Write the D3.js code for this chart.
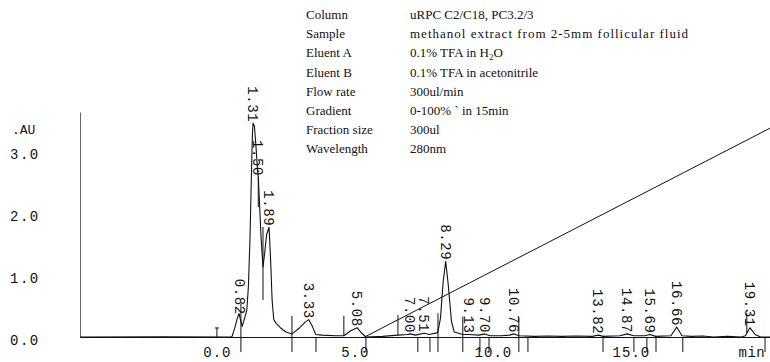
<!DOCTYPE html>
<html>
<head>
<meta charset="utf-8">
<script src="https://cdn.jsdelivr.net/npm/d3@7"></script>
<style>
  body { margin: 0; background: #fff; }
  svg { display: block; background: #fff; }
</style>
</head>
<body>
<svg id="chart" width="770" height="362"></svg>
<script>
// run conditions printed above the trace
const headerKeys = ['Column', 'Sample', 'Eluent A', 'Eluent B', 'Flow rate', 'Gradient', 'Fraction size', 'Wavelength'];
const headerValues = ['uRPC C2/C18, PC3.2/3', 'methanol extract from 2-5mm follicular fluid', '0.1% TFA in H2O',
  '0.1% TFA in acetonitrile', '300ul/min', '0-100%  `  in 15min', '300ul', '280nm'];

// absorbance trace, [minutes, AU]
const trace = [
  [-4.96, 0.0], [-2.0, 0.005], [0.5, 0.0], [0.55, 0.01], [0.65, 0.15], [0.74, 0.30], [0.80, 0.38],
  [0.87, 0.25], [0.92, 0.17], [1.00, 0.30], [1.08, 0.42], [1.14, 0.80], [1.20, 1.6], [1.25, 2.6],
  [1.29, 3.3], [1.31, 3.45], [1.36, 3.40], [1.42, 3.05], [1.47, 2.70], [1.50, 2.58], [1.53, 2.3],
  [1.60, 1.6], [1.67, 1.13], [1.73, 1.35], [1.80, 1.65], [1.89, 1.77], [1.95, 1.2], [2.00, 0.6],
  [2.06, 0.28], [2.15, 0.22], [2.3, 0.15], [2.5, 0.08], [2.72, 0.05], [3.0, 0.15], [3.2, 0.24],
  [3.33, 0.28], [3.45, 0.18], [3.58, 0.04], [3.8, 0.03], [4.3, 0.02], [4.6, 0.02], [4.85, 0.10],
  [5.08, 0.15], [5.25, 0.06], [5.40, 0.0], [6.0, 0.01], [6.56, 0.03], [6.9, 0.04], [7.00, 0.05],
  [7.2, 0.03], [7.51, 0.06], [7.7, 0.04], [8.0, 0.07], [8.1, 0.30], [8.2, 0.9], [8.29, 1.22],
  [8.38, 0.85], [8.5, 0.25], [8.6, 0.08], [8.9, 0.04], [9.13, 0.04], [9.5, 0.03], [9.70, 0.05],
  [9.9, 0.02], [10.3, 0.02], [10.6, 0.03], [10.76, 0.05], [10.95, 0.02], [11.5, 0.01], [12.0, 0.015],
  [12.5, 0.01], [13.0, 0.015], [13.6, 0.01], [13.82, 0.03], [14.0, 0.01], [14.6, 0.02], [14.87, 0.05],
  [15.1, 0.02], [15.5, 0.02], [15.69, 0.04], [15.9, 0.01], [16.45, 0.02], [16.66, 0.16], [16.85, 0.02],
  [17.2, 0.01], [17.6, 0.015], [18.0, 0.0], [18.5, 0.01], [19.0, 0.0], [19.15, 0.02], [19.31, 0.15],
  [19.5, 0.04], [19.7, 0.0], [20.1, 0.0]
];

// retention times printed on the peaks
const peakTimes = [0.82, 1.31, 1.50, 1.89, 3.33, 5.08, 7.00, 7.51, 8.29, 9.13, 9.70, 10.76,
  13.82, 14.87, 15.69, 16.66, 19.31];

// integrator event marks: [minutes, kind]
const eventMarks = [
  [0.0, 's'], [0.87, 'x'], [1.50, 'd'], [1.67, 'l'], [2.72, 'x'], [3.59, 'b'], [4.60, 'a'], [5.40, 'b'],
  [6.56, 'a'], [7.28, 'b'], [7.72, 'b'], [8.01, 'x'], [8.91, 'x'], [9.53, 'b'], [9.86, 'b'],
  [10.94, 'x'], [11.27, 'b'], [13.99, 'b'], [15.11, 'b'], [15.58, 'b'], [15.91, 'b'], [16.88, 'b'],
  [19.20, 'a'], [19.86, 'b']
];

// %B gradient: 0-100% in 15 min
const gradientTime = [5.35, 20.35];
const gradientPct = [0, 100];

const yTicks = [0, 1, 2, 3];
const xTicks = [0, 5, 10, 15];

const mono = '"Liberation Mono", "DejaVu Sans Mono", monospace';
const serif = '"Liberation Serif", "DejaVu Serif", serif';

const svg = d3.select('#chart');

const x = d3.scaleLinear().domain([-4.96, 20.04]).range([80, 770]);
const y = d3.scaleLinear().domain([0, 3.63]).range([337, 112]);
const yB = d3.scaleLinear().domain([0, 100]).range([y(0), y(3.44)]);

const bisect = d3.bisector(d => d[0]).left;
const signalAt = t => {
  const i = Math.max(1, Math.min(trace.length - 1, bisect(trace, t)));
  const a = trace[i - 1], b = trace[i];
  return a[1] + (b[1] - a[1]) * (t - a[0]) / (b[0] - a[0]);
};

// header block
const head = svg.append('g').attr('font-family', serif).attr('font-size', 13).attr('fill', '#111');
headerKeys.forEach((k, i) => {
  const by = 19 + i * 19.2;
  head.append('text').attr('x', 306).attr('y', by).text(k);
  const v = head.append('text').attr('x', 410).attr('y', by);
  if (i === 1) v.attr('letter-spacing', 1);
  const val = headerValues[i];
  if (val.includes('H2O')) {
    const [pre, post] = val.split('H2O');
    v.append('tspan').text(pre + 'H');
    v.append('tspan').attr('font-size', 9).attr('dy', 3).text('2');
    v.append('tspan').attr('dy', -3).text('O' + post);
  } else {
    v.text(val);
  }
});

// y axis
const yAxis = svg.append('g')
  .attr('transform', `translate(${x(-4.96)},0)`)
  .call(d3.axisLeft(y).tickValues(yTicks).tickSize(0).tickSizeOuter(0).tickPadding(38)
    .tickFormat(d3.format('.1f')));
yAxis.select('.domain').attr('stroke', '#666');
yAxis.selectAll('text').attr('font-family', mono).attr('font-size', 14)
  .attr('letter-spacing', 1.5).attr('fill', '#111').attr('text-anchor', 'start').attr('x', -70).attr('y', 3);

svg.append('text')
  .attr('x', 12).attr('y', y(3.3) + 2)
  .attr('font-family', mono).attr('font-size', 13).attr('fill', '#111')
  .text('.AU');

// x axis
const xAxis = svg.append('g')
  .attr('transform', `translate(0,${y(0)})`)
  .call(d3.axisBottom(x).tickValues(xTicks).tickSize(0).tickSizeOuter(0).tickPadding(10)
    .tickFormat(d3.format('.1f')));
xAxis.select('.domain').attr('stroke', '#111');
xAxis.selectAll('text').attr('font-family', mono).attr('font-size', 14)
  .attr('letter-spacing', 1).attr('fill', '#111');
svg.append('text')
  .attr('x', x(18.9)).attr('y', y(0) + 20)
  .attr('font-family', mono).attr('font-size', 14).attr('letter-spacing', 0.5).attr('fill', '#111')
  .text('min');

// gradient line
svg.append('path')
  .datum(gradientTime.map((t, i) => [t, gradientPct[i]]))
  .attr('fill', 'none').attr('stroke', '#111').attr('stroke-width', 1)
  .attr('d', d3.line().x(d => x(d[0])).y(d => yB(d[1])));

// trace
svg.append('path')
  .datum(trace)
  .attr('fill', 'none').attr('stroke', '#111').attr('stroke-width', 1.1)
  .attr('stroke-linejoin', 'round')
  .attr('d', d3.line().x(d => x(d[0])).y(d => y(d[1])));

// event marks
const markSpan = {
  x: ys => [ys - 18, y(0) + 15],
  a: ys => [ys - 20, ys],
  b: () => [y(0), y(0) + 15],
  d: ys => [ys, ys + 30],
  l: ys => [ys - 40, ys + 33],
  s: ys => [ys - 9, ys]
};
svg.append('g').selectAll('line')
  .data(eventMarks)
  .join('line')
  .attr('x1', d => x(d[0])).attr('x2', d => x(d[0]))
  .attr('y1', d => markSpan[d[1]](y(signalAt(d[0])))[0])
  .attr('y2', d => markSpan[d[1]](y(signalAt(d[0])))[1])
  .attr('stroke', '#111').attr('stroke-width', 1);
svg.append('g').selectAll('line')
  .data(eventMarks.filter(d => d[1] === 's'))
  .join('line')
  .attr('x1', d => x(d[0]) - 2).attr('x2', d => x(d[0]) + 2)
  .attr('y1', d => y(signalAt(d[0])) - 9).attr('y2', d => y(signalAt(d[0])) - 9)
  .attr('stroke', '#111');

// retention time labels, printed sideways ending at the apex
svg.append('g').selectAll('text')
  .data(peakTimes)
  .join('text')
  .attr('transform', t => `translate(${x(t)},${y(signalAt(t)) - 1}) rotate(90)`)
  .attr('text-anchor', 'end')
  .attr('dy', '0.35em')
  .attr('font-family', mono).attr('font-size', 14).attr('letter-spacing', 0.6)
  .attr('fill', '#111')
  .text(d3.format('.2f'));
</script>
</body>
</html>
